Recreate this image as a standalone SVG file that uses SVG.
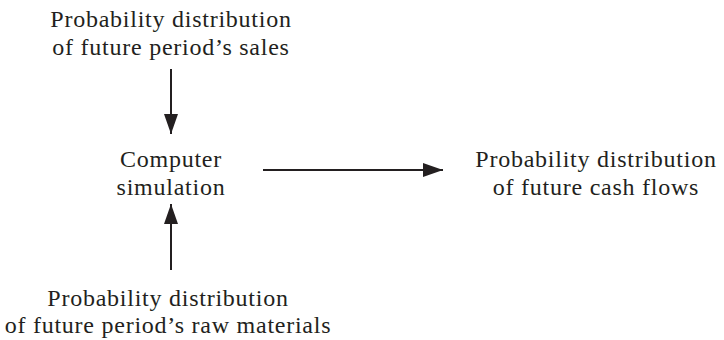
<svg xmlns="http://www.w3.org/2000/svg" width="724" height="340" viewBox="0 0 724 340">
<style>
text{font-family:"Liberation Serif","DejaVu Serif",serif;font-size:24px;letter-spacing:0.75px;fill:#231f20;text-anchor:middle}
.c line{stroke:#231f20;stroke-width:2}
</style>
<defs>
<marker id="ah" markerWidth="20" markerHeight="14" refX="20" refY="7" orient="auto" markerUnits="userSpaceOnUse">
<path d="M0,0 L20,7 L0,14 Z" fill="#231f20"/>
</marker>
</defs>
<rect width="724" height="340" fill="#fff"/>
<g id="sales"><text x="171" y="27">Probability distribution</text><text x="171" y="55">of future period’s sales</text></g>
<g id="sim"><text x="171" y="167">Computer</text><text x="171" y="195">simulation</text></g>
<g id="cash"><text x="596" y="167">Probability distribution</text><text x="596" y="195">of future cash flows</text></g>
<g id="raw"><text x="168" y="306">Probability distribution</text><text x="168" y="333">of future period’s raw materials</text></g>
<g class="c" id="connectors">
<line x1="171" y1="69" x2="171" y2="134" marker-end="url(#ah)"/>
<line x1="171" y1="270" x2="171" y2="204" marker-end="url(#ah)"/>
<line x1="263" y1="170" x2="443" y2="170" marker-end="url(#ah)"/>
</g>
</svg>
